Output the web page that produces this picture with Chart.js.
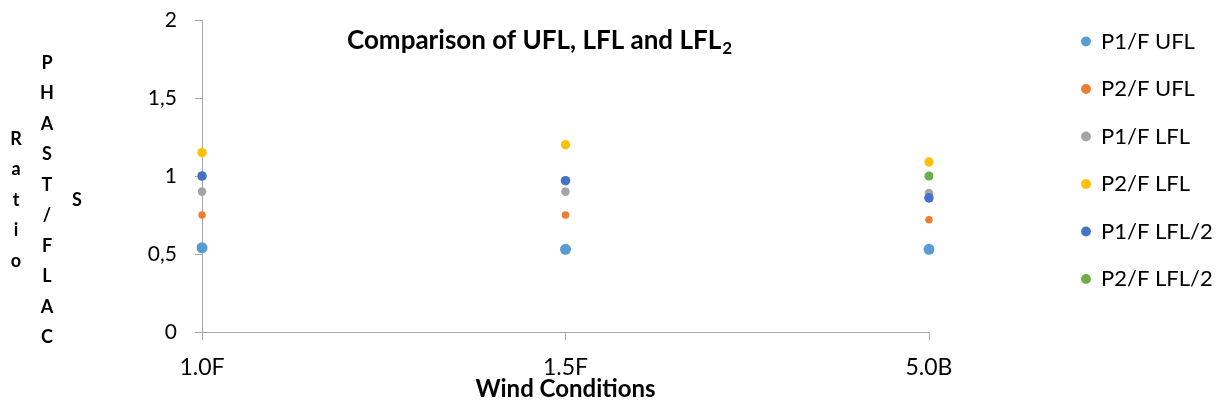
<!DOCTYPE html>
<html>
<head>
<meta charset="utf-8">
<script src="https://cdn.jsdelivr.net/npm/chart.js@4/dist/chart.umd.min.js"></script>
<style>
  html, body { margin: 0; padding: 0; background: #fff; }
  #wrap { width: 1225px; height: 412px; position: relative; }
</style>
</head>
<body>
<div id="wrap"><canvas id="c" width="1225" height="412"></canvas></div>
<script>
// ---- data ----
const categories = ['1.0F', '1.5F', '5.0B'];
const p1fUFL   = [0.54, 0.53, 0.53];
const p2fUFL   = [0.75, 0.75, 0.72];
const p1fLFL   = [0.90, 0.90, 0.89];
const p2fLFL   = [1.15, 1.20, 1.09];
const p1fLFL2  = [1.00, 0.97, 0.86];
const p2fLFL2  = [null, null, 1.00];
const seriesNames = ['P1/F UFL', 'P2/F UFL', 'P1/F LFL', 'P2/F LFL', 'P1/F LFL/2', 'P2/F LFL/2'];
const yTickLabels = ['0', '0,5', '1', '1,5', '2'];
const chartTitle = 'Comparison of UFL, LFL and LFL';
const chartTitleSub = '2';
const xTitle = 'Wind Conditions';
const yTitleColumns = ['Ratio', 'PHAST/FLAC', 'S'];

// ---- styles ----
const colors = ['#5B9BD5', '#ED7D31', '#A5A5A5', '#FFC000', '#4472C4', '#70AD47'];
const radii  = [5.5, 3.8, 4.3, 4.7, 4.8, 4.6];
const values = [p1fUFL, p2fUFL, p1fLFL, p2fLFL, p1fLFL2, p2fLFL2];
const FONT = 'Lato, "Open Sans", sans-serif';
const axisGray = '#A6A6A6';

const datasets = values.map((v, i) => ({
  label: seriesNames[i],
  data: v,
  showLine: false,
  borderColor: colors[i],
  backgroundColor: colors[i],
  pointBackgroundColor: colors[i],
  pointBorderColor: colors[i],
  pointBorderWidth: 0,
  pointRadius: radii[i],
  pointHoverRadius: radii[i],
  pointStyle: 'circle',
  order: -i
}));

const LEGEND_LEFT = 1056.5;
const layoutPlugin = {
  id: 'layoutTweak',
  afterInit(chart) {
    const lg = chart.legend;
    if (lg) {
      const origFit = lg.fit.bind(lg);
      lg.fit = function () { origFit(); this.width = 1225 - 929; };
    }
  },
  afterLayout(chart) {
    const lg = chart.legend;
    if (lg) {
      lg.left = LEGEND_LEFT;
      lg.top = 5;
    }
  },
  afterDraw(chart) {
    const ctx = chart.ctx;
    ctx.save();
    // chart title with subscript
    ctx.fillStyle = '#000';
    ctx.textBaseline = 'alphabetic';
    ctx.textAlign = 'left';
    ctx.font = 'bold 26px ' + FONT;
    const tx = 347, ty = 49;
    ctx.fillText(chartTitle, tx, ty);
    const w = ctx.measureText(chartTitle).width;
    ctx.font = 'bold 17px ' + FONT;
    ctx.fillText(chartTitleSub, tx + w + 1, ty + 5);
    // stacked y-axis title
    ctx.font = 'bold 18px ' + FONT;
    ctx.textAlign = 'center';
    ctx.textBaseline = 'middle';
    const colX = [16, 47, 77];
    const centerY = 200, step = 30.5;
    yTitleColumns.forEach((txt, c) => {
      const chars = Array.from(txt);
      const n = chars.length;
      chars.forEach((ch, k) => {
        const y = centerY + (k - (n - 1) / 2) * step;
        ctx.fillText(ch, colX[c], y);
      });
    });
    ctx.restore();
  }
};

new Chart(document.getElementById('c'), {
  type: 'line',
  data: { labels: categories, datasets },
  plugins: [layoutPlugin],
  options: {
    responsive: false,
    animation: false,
    devicePixelRatio: 1,
    layout: { padding: { top: 20, left: 0, right: 0, bottom: 0 } },
    plugins: {
      title: { display: false },
      tooltip: { enabled: false },
      legend: {
        display: true,
        position: 'right',
        align: 'start',
        labels: {
          usePointStyle: true,
          boxWidth: 8,
          boxHeight: 7,
          padding: 25.5,
          color: '#000',
          font: { family: FONT, size: 22 },
          sort: (a, b) => a.datasetIndex - b.datasetIndex
        }
      }
    },
    scales: {
      x: {
        type: 'category',
        offset: false,
        grid: { display: true, drawOnChartArea: false, drawTicks: true, tickLength: 8, color: axisGray, lineWidth: 1 },
        border: { display: true, color: axisGray, width: 1 },
        ticks: { color: '#000', font: { family: FONT, size: 23 }, padding: 14, maxRotation: 0, autoSkip: false },
        title: { display: true, text: xTitle, color: '#000', font: { family: FONT, size: 24, weight: 'bold' }, padding: { top: 0, bottom: 8 } },
        afterFit(scale) { scale.height = 80; scale.paddingLeft = 0; scale.paddingRight = 0; }
      },
      y: {
        min: 0, max: 2,
        grid: { display: true, drawOnChartArea: false, drawTicks: true, tickLength: 7, color: axisGray, lineWidth: 1 },
        border: { display: true, color: axisGray, width: 1 },
        ticks: {
          stepSize: 0.5,
          color: '#000',
          font: { family: FONT, size: 21 },
          padding: 18,
          callback: (v) => yTickLabels[Math.round(v / 0.5)]
        },
        afterFit(scale) { scale.width = 202; scale.paddingTop = 0; scale.paddingBottom = 0; }
      }
    }
  }
});
</script>
</body>
</html>
